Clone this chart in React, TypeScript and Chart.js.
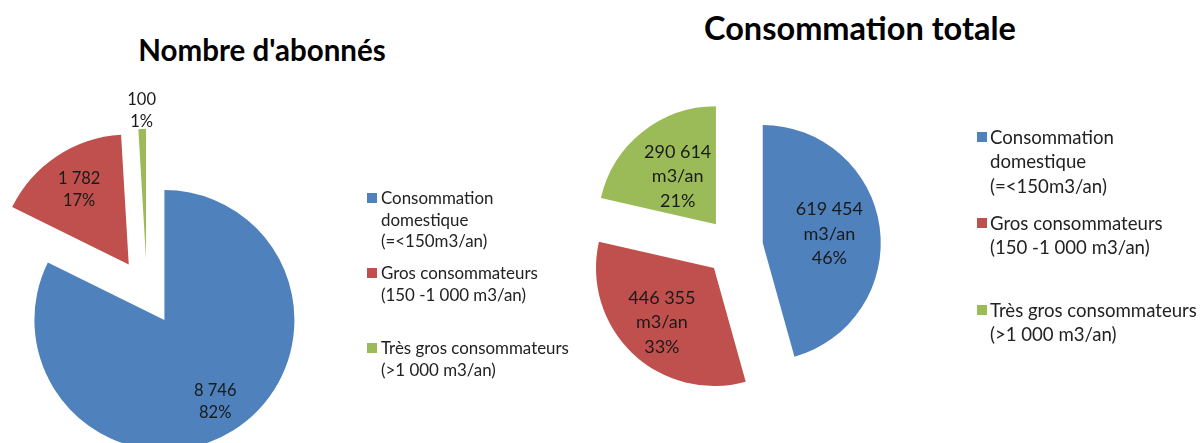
import React, { useEffect, useRef } from "react";
import { Chart, registerables } from "chart.js";

Chart.register(...registerables);

// ---------------- data ----------------
const categories = [
  "Consommation domestique (=<150m3/an)",
  "Gros consommateurs (150 -1 000 m3/an)",
  "Très gros consommateurs (>1 000 m3/an)",
];
const legendLines = [
  ["Consommation", "domestique", "(=<150m3/an)"],
  ["Gros consommateurs", "(150 -1 000 m3/an)"],
  ["Très gros consommateurs", "(>1 000 m3/an)"],
];
const abonnes = [8746, 1782, 100];
const consommation = [619454, 446355, 290614];
const consoUnit = "m3/an";
const titles = ["Nombre d'abonnés", "Consommation totale"];
const colors = ["#4F81BD", "#C0504D", "#9BBB59"];

// ---------------- helpers ----------------
const fmt = (n: number) => String(n).replace(/\B(?=(\d{3})+(?!\d))/g, " ");
const pct = (v: number, arr: number[]) =>
  Math.round((v / arr.reduce((a, b) => a + b, 0)) * 100) + "%";

const FONT = "Lato, 'Open Sans', sans-serif";
const W = 1202;
const H = 443;

const explodePlugin = {
  id: "explode",
  beforeDatasetDraw(chart: any, args: any, opts: any) {
    const d = opts.distance || 0;
    const ctx = chart.ctx;
    args.meta.data.forEach((arc: any) => {
      const mid = (arc.startAngle + arc.endAngle) / 2;
      ctx.save();
      ctx.translate(Math.cos(mid) * d, Math.sin(mid) * d);
      arc.draw(ctx);
      ctx.restore();
    });
    return false;
  },
};

const sliceLabelPlugin = {
  id: "sliceLabels",
  afterDatasetsDraw(chart: any, _args: any, opts: any) {
    const meta = chart.getDatasetMeta(0);
    const ctx = chart.ctx;
    ctx.save();
    ctx.font = `${opts.fontSize}px ${FONT}`;
    ctx.fillStyle = opts.color;
    ctx.textAlign = "center";
    ctx.textBaseline = "middle";
    meta.data.forEach((arc: any, i: number) => {
      const mid = (arc.startAngle + arc.endAngle) / 2;
      const r = opts.explode + opts.k[i] * arc.outerRadius;
      const x = arc.x + Math.cos(mid) * r;
      const y = arc.y + Math.sin(mid) * r;
      const lines: string[] = opts.lines[i];
      lines.forEach((t, j) => {
        ctx.fillText(t, x, y + (j - (lines.length - 1) / 2) * opts.lineHeight);
      });
    });
    ctx.restore();
  },
};

type PieProps = {
  values: number[];
  lines: string[][];
  center: [number, number];
  radius: number;
  explode: number;
  labelK: number[];
  labelFont: number;
  labelLine: number;
};

function PieCanvas(p: PieProps) {
  const ref = useRef<HTMLCanvasElement>(null);
  useEffect(() => {
    const [cx, cy] = p.center;
    const padTop = Math.max(0, 2 * cy - H);
    const padBottom = Math.max(0, H - 2 * cy);
    const padLeft = Math.max(0, 2 * cx - W);
    const padRight = Math.max(0, W - 2 * cx);
    const chart = new Chart(ref.current as HTMLCanvasElement, {
      type: "pie",
      data: {
        labels: categories,
        datasets: [
          {
            data: p.values,
            backgroundColor: colors,
            borderWidth: 0,
          },
        ],
      },
      options: {
        responsive: false,
        animation: false,
        radius: p.radius,
        clip: false,
        layout: { padding: { top: padTop, bottom: padBottom, left: padLeft, right: padRight } },
        events: [],
        plugins: {
          legend: { display: false },
          tooltip: { enabled: false },
          title: { display: false },
          explode: { distance: p.explode },
          sliceLabels: {
            explode: p.explode,
            k: p.labelK,
            lines: p.lines,
            fontSize: p.labelFont,
            lineHeight: p.labelLine,
            color: "#1a1a1a",
          },
        } as any,
      } as any,
      plugins: [explodePlugin, sliceLabelPlugin],
    });
    return () => chart.destroy();
  }, []);
  return (
    <canvas
      ref={ref}
      width={W}
      height={H}
      style={{ position: "absolute", left: 0, top: 0, width: W, height: H }}
    />
  );
}

type LegendProps = {
  squareX: number;
  textX: number;
  firstLineCenters: number[];
  lineHeight: number;
  fontSize: number;
  square: number;
};

function Legend(p: LegendProps) {
  return (
    <>
      {legendLines.map((lines, i) => (
        <React.Fragment key={i}>
          <div
            style={{
              position: "absolute",
              left: p.squareX,
              top: p.firstLineCenters[i] - p.square / 2,
              width: p.square,
              height: p.square,
              background: colors[i],
            }}
          />
          <div
            style={{
              position: "absolute",
              left: p.textX,
              top: p.firstLineCenters[i] - p.lineHeight / 2,
              fontFamily: FONT,
              fontSize: p.fontSize,
              lineHeight: p.lineHeight + "px",
              color: "#222",
              whiteSpace: "nowrap",
            }}
          >
            {lines.map((l, j) => (
              <div key={j}>{l}</div>
            ))}
          </div>
        </React.Fragment>
      ))}
    </>
  );
}

function Title(p: { text: string; cx: number; cy: number; size: number }) {
  return (
    <div
      style={{
        position: "absolute",
        left: p.cx,
        top: p.cy,
        transform: "translate(-50%, -50%)",
        fontFamily: FONT,
        fontWeight: 700,
        fontSize: p.size,
        lineHeight: 1,
        color: "#000",
        whiteSpace: "nowrap",
      }}
    >
      {p.text}
    </div>
  );
}

export default function App() {
  const leftLines = abonnes.map((v) => [fmt(v), pct(v, abonnes)]);
  const rightLines = consommation.map((v) => [fmt(v), consoUnit, pct(v, consommation)]);
  return (
    <div
      style={{
        position: "absolute",
        left: 0,
        top: 0,
        width: W,
        height: H,
        overflow: "hidden",
        background: "#fff",
      }}
    >
      <Title text={titles[0]} cx={262} cy={50} size={29.5} />
      <Title text={titles[1]} cx={860} cy={28} size={32.5} />
      <PieCanvas
        values={abonnes}
        lines={leftLines}
        center={[147, 292]}
        radius={130}
        explode={33}
        labelK={[0.74, 0.69, 1.14]}
        labelFont={16.5}
        labelLine={21.5}
      />
      <PieCanvas
        values={consommation}
        lines={rightLines}
        center={[734, 247]}
        radius={118}
        explode={29}
        labelK={[0.57, 0.64, 0.52]}
        labelFont={18}
        labelLine={24.5}
      />
      <Legend
        squareX={367}
        textX={381}
        firstLineCenters={[198, 273, 348]}
        lineHeight={21.5}
        fontSize={16.9}
        square={10}
      />
      <Legend
        squareX={977}
        textX={990}
        firstLineCenters={[137, 223, 310]}
        lineHeight={24.5}
        fontSize={18.6}
        square={10}
      />
    </div>
  );
}
